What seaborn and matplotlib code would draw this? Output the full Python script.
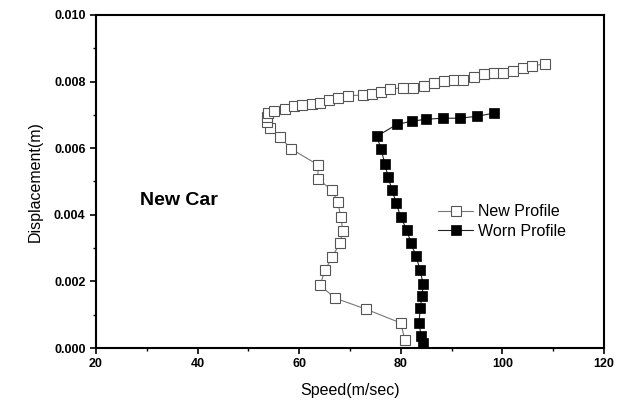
import matplotlib
matplotlib.use("Agg")
import matplotlib.pyplot as plt
import seaborn as sns
import pandas as pd
from matplotlib.ticker import MultipleLocator

sns.set_theme(style="ticks")
plt.rcParams['font.family'] = ['Liberation Sans', 'DejaVu Sans']
plt.rcParams['text.color'] = 'black'
plt.rcParams['axes.labelcolor'] = 'black'

new_speed = [80.8, 80.0, 73.1, 67.0, 64.1, 65.1, 66.5, 68.0, 68.6, 68.2, 67.6, 66.5,
             63.7, 63.7, 58.4, 56.2, 54.3, 53.7, 53.6, 53.9, 55.0, 57.2, 59.0, 60.6,
             62.5, 64.1, 65.9, 67.6, 69.6, 72.6, 74.3, 76.1, 77.9, 80.4, 82.4, 84.6,
             86.5, 88.5, 90.5, 92.2, 94.4, 96.4, 98.3, 100.1, 102.1, 104.1, 105.8, 108.4]
new_disp = [0.00024, 0.00075, 0.00117, 0.0015, 0.00189, 0.00234, 0.00273, 0.00315,
            0.00351, 0.00393, 0.00438, 0.00474, 0.00507, 0.0055, 0.00598, 0.00634,
            0.0066, 0.00679, 0.00693, 0.00706, 0.00712, 0.00718, 0.00727, 0.0073,
            0.00733, 0.00736, 0.00745, 0.0075, 0.00757, 0.0076, 0.00763, 0.00769,
            0.00778, 0.00781, 0.00781, 0.00787, 0.00796, 0.00802, 0.00805, 0.00805,
            0.00814, 0.00823, 0.00826, 0.00826, 0.00832, 0.00841, 0.00847, 0.00853]

worn_speed = [84.4, 84.0, 83.6, 83.8, 84.2, 84.4, 83.8, 83.0, 82.0, 81.2, 80.0, 79.1,
              78.3, 77.5, 76.9, 76.1, 75.3, 79.3, 82.2, 85.0, 88.3, 91.7, 95.0, 98.3]
worn_disp = [0.00015, 0.00036, 0.00075, 0.0012, 0.00156, 0.00192, 0.00234, 0.00276,
             0.00315, 0.00354, 0.00393, 0.00435, 0.00474, 0.00513, 0.00552, 0.00597,
             0.00636, 0.00672, 0.00681, 0.00687, 0.0069, 0.0069, 0.00696, 0.00705]

df_new = pd.DataFrame({"speed": new_speed, "disp": new_disp})
df_worn = pd.DataFrame({"speed": worn_speed, "disp": worn_disp})

fig = plt.figure(figsize=(6.17, 4.04), dpi=100)
ax = fig.add_axes([0.1556, 0.1386, 0.8233, 0.8243])

sns.lineplot(data=df_new, x="speed", y="disp", sort=False, estimator=None, ax=ax,
             color="#777777", lw=0.8, marker="s", markersize=6.8,
             markerfacecolor="white", markeredgecolor="#555555", markeredgewidth=0.8,
             label="New Profile")
sns.lineplot(data=df_worn, x="speed", y="disp", sort=False, estimator=None, ax=ax,
             color="#222222", lw=0.8, marker="s", markersize=6.5,
             markerfacecolor="black", markeredgecolor="black", markeredgewidth=0.5,
             label="Worn Profile")

ax.set_xlim(20, 120)
ax.set_ylim(0, 0.010)
ax.xaxis.set_major_locator(MultipleLocator(20))
ax.xaxis.set_minor_locator(MultipleLocator(10))
ax.yaxis.set_major_locator(MultipleLocator(0.002))
ax.yaxis.set_minor_locator(MultipleLocator(0.001))
ax.yaxis.set_major_formatter(matplotlib.ticker.FormatStrFormatter('%.3f'))
ax.tick_params(which='major', direction='out', length=4, width=1.2, labelsize=9,
               colors='black')
ax.tick_params(which='minor', direction='out', length=2.5, width=1.0, colors='black')
for lab in ax.get_xticklabels() + ax.get_yticklabels():
    lab.set_fontweight('bold')
for sp in ax.spines.values():
    sp.set_visible(True)
    sp.set_linewidth(1.5)
    sp.set_color('black')

ax.set_xlabel("Speed(m/sec)", fontsize=11.5, labelpad=9, color='black')
ax.set_ylabel("Displacement(m)", fontsize=11.5, labelpad=8, color='black')

ax.text(28.7, 0.00444, "New Car", fontsize=14, fontweight='bold', va='center',
        ha='left', color='black')

leg = ax.legend(loc='upper left', bbox_to_anchor=(0.645, 0.475), frameon=False,
                fontsize=11.5, handlelength=2.2, handletextpad=0.3, labelspacing=0.3)
for t in leg.get_texts():
    t.set_color('black')

fig.savefig("out.png", dpi=100)
